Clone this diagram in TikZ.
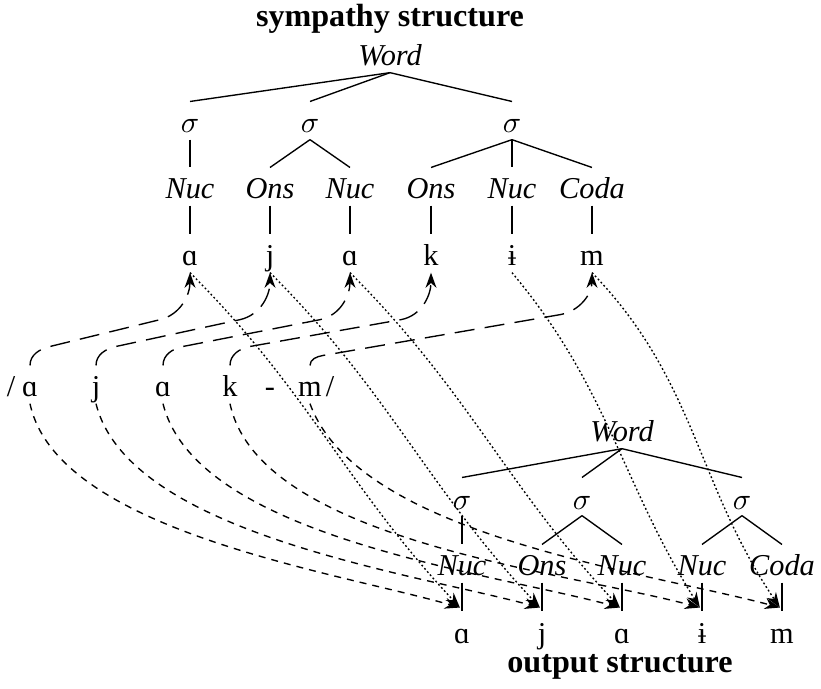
\documentclass[tikz,border=0pt]{standalone}
\usepackage{fontspec}
\setmainfont{Liberation Serif}
\usetikzlibrary{arrows.meta,calc}
\begin{document}
\begin{tikzpicture}[x=0.33pt,y=-0.33pt,
  tnode/.style={inner sep=0pt,anchor=base,text height=10.2pt,text depth=2pt},
  cat/.style={tnode,font=\itshape},
  heading/.style={anchor=base,inner sep=0pt,font=\bfseries\fontsize{10.6}{12}\selectfont},
  branch/.style={line width=0.45pt},
  tip/.style={-{Stealth[length=5pt,width=3.6pt,inset=1.6pt]}},
  corr/.style={tip,line width=0.45pt,dash pattern=on 6.6pt off 3.4pt},
  faith/.style={tip,line width=0.45pt,dash pattern=on 2.3pt off 2pt},
  symp/.style={tip,line width=0.45pt,dash pattern=on 0.6pt off 0.8pt},
]
\useasboundingbox (0,0) rectangle (821,689);

% ---------- sympathy candidate ----------
\node[heading] (head1) at (390,27) {sympathy structure};
\node[cat] (W1) at (390,66) {Word};
\node[tnode] (s1) at (190,133) {$\sigma$};
\node[tnode] (s2) at (310,133) {$\sigma$};
\node[tnode] (s3) at (512,133) {$\sigma$};
\node[cat] (n1) at (190,199) {Nuc};
\node[cat] (o2) at (270,199) {Ons};
\node[cat] (n2) at (350,199) {Nuc};
\node[cat] (o3) at (431,199) {Ons};
\node[cat] (n3) at (512,199) {Nuc};
\node[cat] (c3) at (592,199) {Coda};
\node[tnode] (ta1) at (190,266) {ɑ};
\node[tnode] (tj)  at (270,266) {j};
\node[tnode] (ta2) at (350,266) {ɑ};
\node[tnode] (tk)  at (431,266) {k};
\node[tnode] (ti)  at (512,266) {ɨ};
\node[tnode] (tm)  at (592,266) {m};

\foreach \a/\b in {W1/s1,W1/s2,W1/s3,s1/n1,s2/o2,s2/n2,s3/o3,s3/n3,s3/c3,
                   n1/ta1,o2/tj,n2/ta2,o3/tk,n3/ti,c3/tm}
  \draw[branch] (\a.south) -- (\b.north);

% ---------- input ----------
\node[tnode] (sl)  at (11,397)  {/};
\node[tnode] (ua1) at (30,397)  {ɑ};
\node[tnode] (uj)  at (96,397)  {j};
\node[tnode] (ua2) at (163,397) {ɑ};
\node[tnode] (uk)  at (230,397) {k};
\node[tnode] (uh)  at (270,397) {-};
\node[tnode] (um)  at (310,397) {m};
\node[tnode] (sr)  at (330,397) {/};

% ---------- output candidate ----------
\node[cat] (W2) at (622,442) {Word};
\node[tnode] (bs1) at (462,509) {$\sigma$};
\node[tnode] (bs2) at (582,509) {$\sigma$};
\node[tnode] (bs3) at (742,509) {$\sigma$};
\node[cat] (bn1) at (462,576) {Nuc};
\node[cat] (bo2) at (542,576) {Ons};
\node[cat] (bn2) at (622,576) {Nuc};
\node[cat] (bn3) at (702,576) {Nuc};
\node[cat] (bc3) at (782,576) {Coda};
\node[tnode] (ba1) at (462,643) {ɑ};
\node[tnode] (bj)  at (542,643) {j};
\node[tnode] (ba2) at (622,643) {ɑ};
\node[tnode] (bi)  at (702,643) {ɨ};
\node[tnode] (bm)  at (782,643) {m};
\node[heading] (head2) at (620,672) {output structure};

\foreach \a/\b in {W2/bs1,W2/bs2,W2/bs3,bs1/bn1,bs2/bo2,bs2/bn2,bs3/bn3,bs3/bc3,
                   bn1/ba1,bo2/bj,bn2/ba2,bn3/bi,bc3/bm}
  \draw[branch] (\a.south) -- (\b.north);

% ---------- input -> sympathy candidate (angles are page angles) ----------
\draw[corr] (ua1.north) to[out=90,in=194] ++(20,-19)
  -- ($(ta1.south)+(-30,47)$) to[out=14,in=-90] (ta1.south);
\draw[corr] (uj.north) to[out=90,in=193] ++(20,-19)
  -- ($(tj.south)+(-30,47)$) to[out=13,in=-90] (tj.south);
\draw[corr] (ua2.north) to[out=90,in=192] ++(20,-19)
  -- ($(ta2.south)+(-30,47)$) to[out=12,in=-90] (ta2.south);
\draw[corr] (uk.north) to[out=90,in=191] ++(20,-19)
  -- ($(tk.south)+(-30,47)$) to[out=11,in=-90] (tk.south);
\draw[corr] (um.north) to[out=90,in=190] ++(13,-10)
  -- ($(tm.south)+(-32,42)$) to[out=10,in=-90] (tm.south);

% ---------- input -> output ----------
\draw[faith] (ua1.south) to[out=-78,in=164,looseness=0.7] ([xshift=-0.7pt,yshift=1.3pt]ba1.north);
\draw[faith] (uj.south)  to[out=-76,in=165,looseness=0.7] ([xshift=-0.7pt,yshift=1.3pt]bj.north);
\draw[faith] (ua2.south) to[out=-76,in=165,looseness=0.7] ([xshift=-0.7pt,yshift=1.3pt]ba2.north);
\draw[faith] (uk.south)  to[out=-78,in=165,looseness=0.7] ([xshift=-0.7pt,yshift=1.3pt]bi.north);
\draw[faith] (um.south)  to[out=-70,in=165,looseness=0.7] ([xshift=-0.7pt,yshift=1.3pt]bm.north);

% ---------- sympathy candidate -> output ----------
\draw[symp] (ta1.south) to[out=-45,in=133] ([xshift=-0.7pt,yshift=1.3pt]ba1.north);
\draw[symp] (tj.south)  to[out=-45,in=133] ([xshift=-0.7pt,yshift=1.3pt]bj.north);
\draw[symp] (ta2.south) to[out=-45,in=133] ([xshift=-0.7pt,yshift=1.3pt]ba2.north);
\draw[symp] (ti.south)  to[out=-50,in=122] ([xshift=-0.7pt,yshift=1.3pt]bi.north);
\draw[symp] (tm.south)  to[out=-46,in=124] ([xshift=-0.7pt,yshift=1.3pt]bm.north);
\end{tikzpicture}
\end{document}
